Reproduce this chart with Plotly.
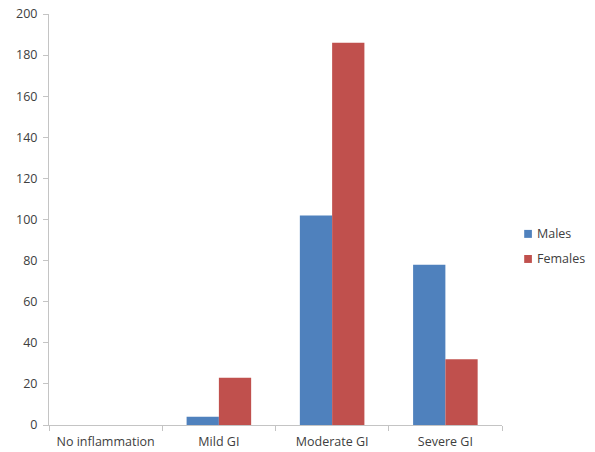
import plotly.graph_objects as go

categories = ["No inflammation", "Mild GI", "Moderate GI", "Severe GI"]
males = [0, 4, 102, 78]
females = [0, 23, 186, 32]
y_ticks = list(range(0, 201, 20))

series_colors = {"Males": "#4F81BD", "Females": "#C0504D"}
axis_grey = "#c4c4c4"
text_grey = "#404040"
font_family = "Open Sans, Liberation Sans, Arial, sans-serif"

fig = go.Figure()
fig.add_trace(go.Bar(name="Males", x=categories, y=males,
                     marker_color=series_colors["Males"], marker_line_width=0))
fig.add_trace(go.Bar(name="Females", x=categories, y=females,
                     marker_color=series_colors["Females"], marker_line_width=0))

# Compact legend to the right of the plot: small square key next to each name
legend_rows = [("Males", 0.465), ("Females", 0.404)]
for name, yc in legend_rows:
    fig.add_shape(type="rect", xref="paper", yref="paper",
                  x0=1.049, x1=1.066, y0=yc - 0.0097, y1=yc + 0.0097,
                  fillcolor=series_colors[name], line_width=0)
    fig.add_annotation(xref="paper", yref="paper", x=1.073, y=yc,
                       xanchor="left", yanchor="middle", showarrow=False,
                       text=name, font=dict(size=12.5, color=text_grey))

fig.update_layout(
    width=595, height=452,
    margin=dict(l=49, r=93, t=14, b=27, autoexpand=False),
    paper_bgcolor="white", plot_bgcolor="white",
    barmode="group", bargap=0.43, bargroupgap=0,
    font=dict(family=font_family, size=12.5, color=text_grey),
    showlegend=False,
)
fig.update_xaxes(
    type="category", showgrid=False, showline=True, linecolor=axis_grey, linewidth=1,
    ticks="outside", tickson="boundaries", ticklen=5, tickcolor=axis_grey,
    tickfont=dict(size=12.5, color=text_grey), range=[-0.5, 3.5], automargin=False,
    ticklabelstandoff=5,
)
fig.update_yaxes(
    range=[0, 200], tickvals=y_ticks, showgrid=False, zeroline=False,
    showline=True, linecolor=axis_grey, linewidth=1,
    ticks="outside", ticklen=5, tickcolor=axis_grey,
    tickfont=dict(size=12.5, color=text_grey), automargin=False,
    ticklabelstandoff=3,
)

fig.write_html("out.html")
